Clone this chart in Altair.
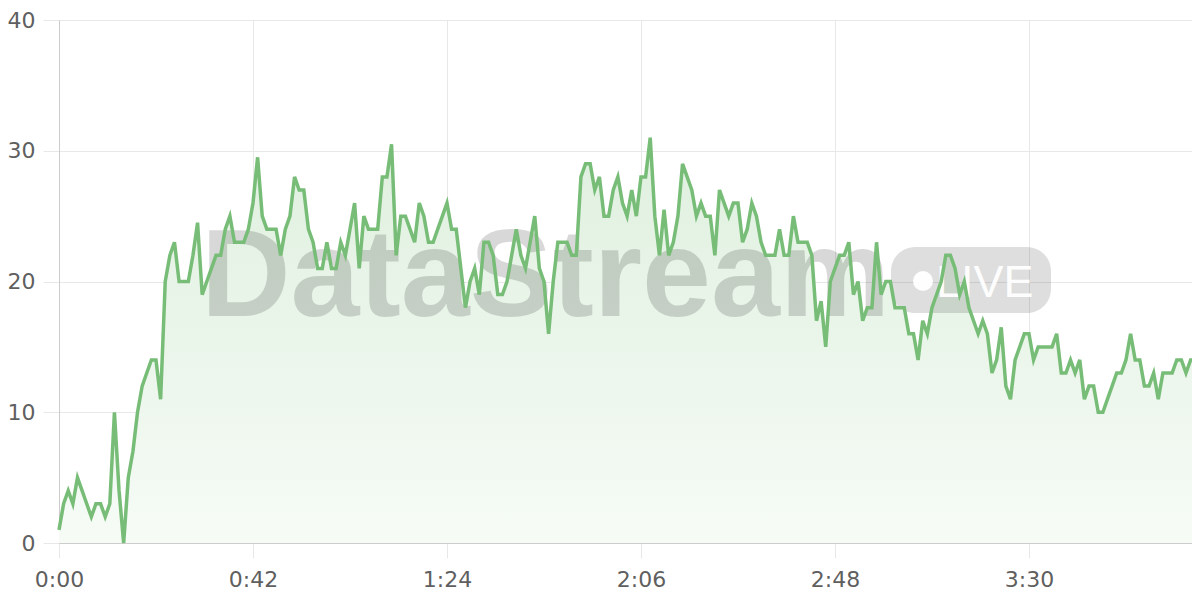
import altair as alt
import pandas as pd

# Sample values, one per second (0:00 .. 4:06)
values = [
    1, 3, 4, 3, 5, 4, 3, 2, 3, 3,
    2, 3, 10, 4, 0, 5, 7, 10, 12, 13,
    14, 14, 11, 20, 22, 23, 20, 20, 20, 22,
    24.5, 19, 20, 21, 22, 22, 24, 25, 23, 23,
    23, 24, 26, 29.5, 25, 24, 24, 24, 22, 24,
    25, 28, 27, 27, 24, 23, 21, 21, 23, 21,
    21, 23, 22, 24, 26, 21, 25, 24, 24, 24,
    28, 28, 30.5, 22, 25, 25, 24, 23, 26, 25,
    23, 23, 24, 25, 26, 24, 24, 21, 18, 20,
    21, 19, 23, 23, 22, 19, 19, 20, 22, 24,
    22, 21, 23, 25, 21, 20, 16, 20, 23, 23,
    23, 22, 22, 28, 29, 29, 27, 28, 25, 25,
    27, 28, 26, 25, 27, 25, 28, 28, 31, 25,
    22, 25.5, 22, 23, 25, 29, 28, 27, 25, 26,
    25, 25, 22, 27, 26, 25, 26, 26, 23, 24,
    26, 25, 23, 22, 22, 22, 24, 22, 22, 25,
    23, 23, 23, 22, 17, 18.5, 15, 20, 21, 22,
    22, 23, 19, 20, 17, 18, 18, 23, 19, 20,
    20, 18, 18, 18, 16, 16, 14, 17, 16, 18,
    19, 20, 22, 22, 21, 19, 20, 18, 17, 16,
    17, 16, 13, 14, 16.5, 12, 11, 14, 15, 16,
    16, 14, 15, 15, 15, 15, 16, 13, 13, 14,
    13, 14, 11, 12, 12, 10, 10, 11, 12, 13,
    13, 14, 16, 14, 14, 12, 12, 13, 11, 13,
    13, 13, 14, 14, 13, 14, 14,
]
seconds = list(range(len(values)))

x_ticks = [0, 42, 84, 126, 168, 210]
y_ticks = [0, 10, 20, 30, 40]

df = pd.DataFrame({"t": seconds, "v": values})

LINE = "#77bd77"
GRID = "#e8e8e8"
DOMAIN = "#cccccc"
LABEL = "#5f5f5f"
FONT = "DejaVu Sans"

x_enc = alt.X(
    "t:Q",
    scale=alt.Scale(domain=[0, 245.3], nice=False, zero=False),
    axis=alt.Axis(
        values=x_ticks,
        title=None,
        grid=True,
        gridColor=GRID,
        tickColor=GRID,
        tickSize=15,
        domainColor=DOMAIN,
        labelFont=FONT,
        labelFontSize=22,
        labelColor=LABEL,
        labelPadding=11,
        labelFlush=False,
        labelOverlap=False,
        labelExpr="floor(datum.value / 60) + ':' + (datum.value % 60 < 10 ? '0' : '') + (datum.value % 60)",
    ),
)
y_enc = alt.Y(
    "v:Q",
    scale=alt.Scale(domain=[0, 40], nice=False),
    axis=alt.Axis(
        values=y_ticks,
        title=None,
        grid=True,
        gridColor=GRID,
        tickColor=GRID,
        tickSize=16,
        domainColor=DOMAIN,
        labelFont=FONT,
        labelFontSize=22,
        labelColor=LABEL,
        labelPadding=8,
        labelFlush=False,
    ),
)

base = alt.Chart(df)

area = base.mark_area(
    color=alt.Gradient(
        gradient="linear",
        stops=[
            alt.GradientStop(color="#f6fbf6", offset=0),
            alt.GradientStop(color="#dff0df", offset=1),
        ],
        x1=1, x2=1, y1=1, y2=0,
    )
).encode(x=x_enc, y=y_enc)

line = base.mark_line(color=LINE, strokeWidth=3.5).encode(x="t:Q", y="v:Q")

# Watermark (decoration)
wm_word = alt.Chart(pd.DataFrame({"s": ["DataStream"]})).mark_text(
    font="Liberation Sans", fontWeight="bold", fontSize=124,
    align="left", baseline="alphabetic", color="#000000", opacity=0.15,
).encode(x=alt.value(142), y=alt.value(296), text="s:N")

wm_pill = alt.Chart(pd.DataFrame({"s": ["pill"]})).mark_rect(
    color="#000000", opacity=0.13, cornerRadius=24,
).encode(x=alt.value(832), x2=alt.value(992), y=alt.value(227), y2=alt.value(293))

wm_dot = alt.Chart(pd.DataFrame({"s": ["dot"]})).mark_circle(
    color="#ffffff", opacity=0.95, size=400,
).encode(x=alt.value(864), y=alt.value(261))

wm_live = alt.Chart(pd.DataFrame({"s": ["LIVE"]})).mark_text(
    font="Liberation Sans", fontSize=45, align="left", baseline="alphabetic",
    color="#ffffff", opacity=0.95,
).encode(x=alt.value(877), y=alt.value(277), text="s:N")

chart = alt.layer(area, wm_word, wm_pill, wm_dot, wm_live, line).properties(
    width=1133,
    height=523,
    padding={"left": 51, "top": 12, "right": 0, "bottom": 49},
    autosize=alt.AutoSizeParams(type="none"),
).configure_view(stroke=None).configure(background="#ffffff")

chart.save("out.html", embed_options={"renderer": "svg", "actions": False})
